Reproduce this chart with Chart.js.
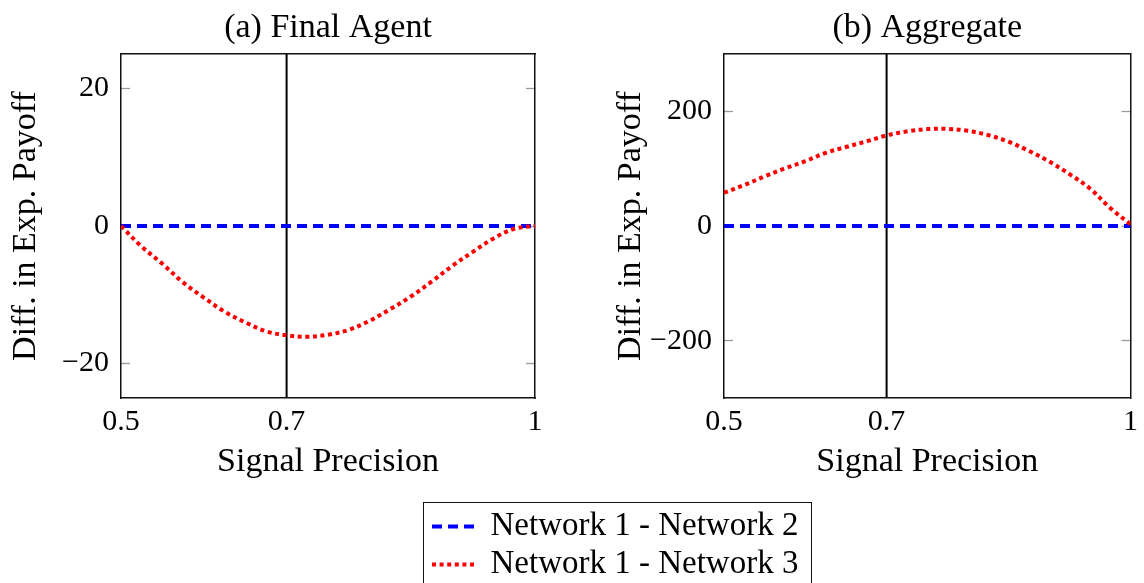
<!DOCTYPE html>
<html>
<head>
<meta charset="utf-8">
<script src="https://cdn.jsdelivr.net/npm/chart.js@4.4.1/dist/chart.umd.min.js"></script>
<style>
  html, body { margin: 0; padding: 0; background: #fff; }
  body { width: 1144px; height: 583px; position: relative; overflow: hidden; }
  .panel { position: absolute; top: 0; width: 572px; height: 480px; }
  #legendBox { position: absolute; left: 423px; top: 502px; width: 389px; height: 95px;
               border: 1.5px solid #111; box-sizing: border-box; background: #fff; }
  #legendBox canvas { position: absolute; left: 0; top: 0; }
</style>
</head>
<body>
<div class="panel" style="left:0"><canvas id="cA" width="572" height="480"></canvas></div>
<div class="panel" style="left:572px"><canvas id="cB" width="572" height="480"></canvas></div>
<div id="legendBox"><canvas id="cL" width="386" height="92"></canvas></div>
<script>
// ---- data ----
const precision = [0.5, 0.525, 0.55, 0.575, 0.6, 0.625, 0.65, 0.675, 0.7, 0.725, 0.75,
                   0.775, 0.8, 0.825, 0.85, 0.875, 0.9, 0.925, 0.95, 0.975, 1.0];
const finalNet12 = [0, 0, 0, 0, 0, 0, 0, 0, 0, 0, 0, 0, 0, 0, 0, 0, 0, 0, 0, 0, 0];
const finalNet13 = [0, -3.0, -5.5, -8.2, -10.4, -12.45, -14.0, -15.3, -15.9, -16.1, -15.8,
                    -15.1, -13.8, -12.1, -10.25, -8.1, -5.8, -3.75, -1.8, -0.4, 0];
const aggNet12 = [0, 0, 0, 0, 0, 0, 0, 0, 0, 0, 0, 0, 0, 0, 0, 0, 0, 0, 0, 0, 0];
const aggNet13 = [58, 71.5, 86.5, 100.5, 113, 127.5, 137.8, 147.5, 158, 165, 169,
                  169.5, 166, 158.5, 147, 131, 112.5, 90.5, 65.5, 31.5, 3];
const cutoff = 0.7;
const xTicks = [0.5, 0.7, 1];
const xTickLabels = ['0.5', '0.7', '1'];
const finalYTicks = [-20, 0, 20];
const finalYRange = [-25, 25];
const aggYTicks = [-200, 0, 200];
const aggYRange = [-300, 300];
const seriesLabels = ['Network 1 - Network 2', 'Network 1 - Network 3'];
const panelTitles = ['(a) Final Agent', '(b) Aggregate'];
const xTitle = 'Signal Precision';
const yTitle = 'Diff. in Exp. Payoff';

// ---- styling ----
Chart.defaults.font.family = "'Liberation Serif', 'Times New Roman', serif";
Chart.defaults.color = '#000';
const BLUE = '#0000ff', RED = '#ff0000';
const blueDash = [10, 6], redDash = [4, 3.6];

function pts(xs, ys) { return xs.map((x, i) => ({x: x, y: ys[i]})); }

function makePanel(id, title, n12, n13, yTicksArr, yRange, leftW, rightW, yTitlePad) {
  const fmt = v => (v < 0 ? '\u2212' + Math.abs(v) : String(v));
  const yGrid = { drawOnChartArea: false, drawTicks: true, tickLength: -9, tickColor: '#9a9a9a', tickWidth: 1.3 };
  const border = { display: true, color: '#111', width: 1.5 };
  return new Chart(document.getElementById(id), {
    type: 'line',
    data: {
      datasets: [
        { label: seriesLabels[0], data: pts(precision, n12), borderColor: BLUE, borderWidth: 4,
          borderDash: blueDash, pointRadius: 0, tension: 0, xAxisID: 'x', yAxisID: 'y', order: 2 },
        { label: seriesLabels[1], data: pts(precision, n13), borderColor: RED, borderWidth: 4,
          borderDash: redDash, pointRadius: 0, tension: 0.35, xAxisID: 'x', yAxisID: 'y', order: 1 },
        { label: 'cutoff', data: [{x: cutoff, y: yRange[0]}, {x: cutoff, y: yRange[1]}], borderColor: '#000',
          borderWidth: 2, pointRadius: 0, xAxisID: 'x', yAxisID: 'y', order: 3 }
      ]
    },
    options: {
      responsive: false, animation: false, events: [],
      layout: { padding: 0 },
      plugins: { legend: { display: false }, tooltip: { enabled: false } },
      scales: {
        x: { type: 'linear', position: 'bottom', min: 0.5, max: 1,
             afterBuildTicks: s => { s.ticks = xTicks.map(v => ({value: v})); },
             ticks: { font: { size: 30 }, padding: 6, maxRotation: 0, autoSkip: false,
                      callback: v => xTickLabels[xTicks.indexOf(v)] ?? '' },
             grid: { display: false, drawTicks: false },
             border: border,
             title: { display: true, text: xTitle, font: { size: 34, lineHeight: 1 }, padding: { top: 0, bottom: 1 } },
             afterFit: s => { s.height = 82; } },
        xTop: { type: 'linear', position: 'top', min: 0.5, max: 1,
             ticks: { display: false }, grid: { display: false, drawTicks: false },
             border: border,
             title: { display: true, text: title, font: { size: 34 }, padding: { top: 8, bottom: 0 } },
             afterFit: s => { s.height = 54; } },
        y: { type: 'linear', position: 'left', min: yRange[0], max: yRange[1],
             afterBuildTicks: s => { s.ticks = yTicksArr.map(v => ({value: v})); },
             ticks: { font: { size: 30 }, padding: 21, callback: fmt },
             grid: yGrid, border: border,
             title: { display: true, text: yTitle, font: { size: 34 }, padding: { top: yTitlePad, bottom: 0 } },
             afterFit: s => { s.width = leftW; } },
        yRight: { type: 'linear', position: 'right', min: yRange[0], max: yRange[1],
             afterBuildTicks: s => { s.ticks = yTicksArr.map(v => ({value: v})); },
             ticks: { display: false }, grid: yGrid, border: border,
             afterFit: s => { s.width = rightW; } }
      }
    }
  });
}

makePanel('cA', panelTitles[0], finalNet12, finalNet13, finalYTicks, finalYRange, 121, 37, 6);
makePanel('cB', panelTitles[1], aggNet12, aggNet13, aggYTicks, aggYRange, 152, 6, 39);

// ---- shared legend ----
new Chart(document.getElementById('cL'), {
  type: 'line',
  data: {
    datasets: [
      { label: seriesLabels[0], data: [], borderColor: BLUE, borderWidth: 4, borderDash: blueDash },
      { label: seriesLabels[1], data: [], borderColor: RED, borderWidth: 4, borderDash: redDash }
    ]
  },
  options: {
    responsive: false, animation: false, events: [],
    layout: { padding: { left: 3, top: 2 } },
    scales: { x: { display: false }, y: { display: false } },
    plugins: {
      tooltip: { enabled: false },
      legend: {
        display: true, position: 'left', align: 'start', maxWidth: 383,
        labels: {
          usePointStyle: true, pointStyle: 'line', pointStyleWidth: 42, boxWidth: 38, boxHeight: 30,
          padding: 5, font: { size: 33 }, color: '#000',
          generateLabels: chart => chart.data.datasets.map((ds, i) => ({
            text: ds.label, strokeStyle: ds.borderColor, fillStyle: ds.borderColor,
            lineWidth: 4, lineDash: ds.borderDash, lineCap: 'butt', pointStyle: 'line',
            hidden: false, datasetIndex: i
          }))
        }
      }
    }
  }
});
</script>
</body>
</html>
